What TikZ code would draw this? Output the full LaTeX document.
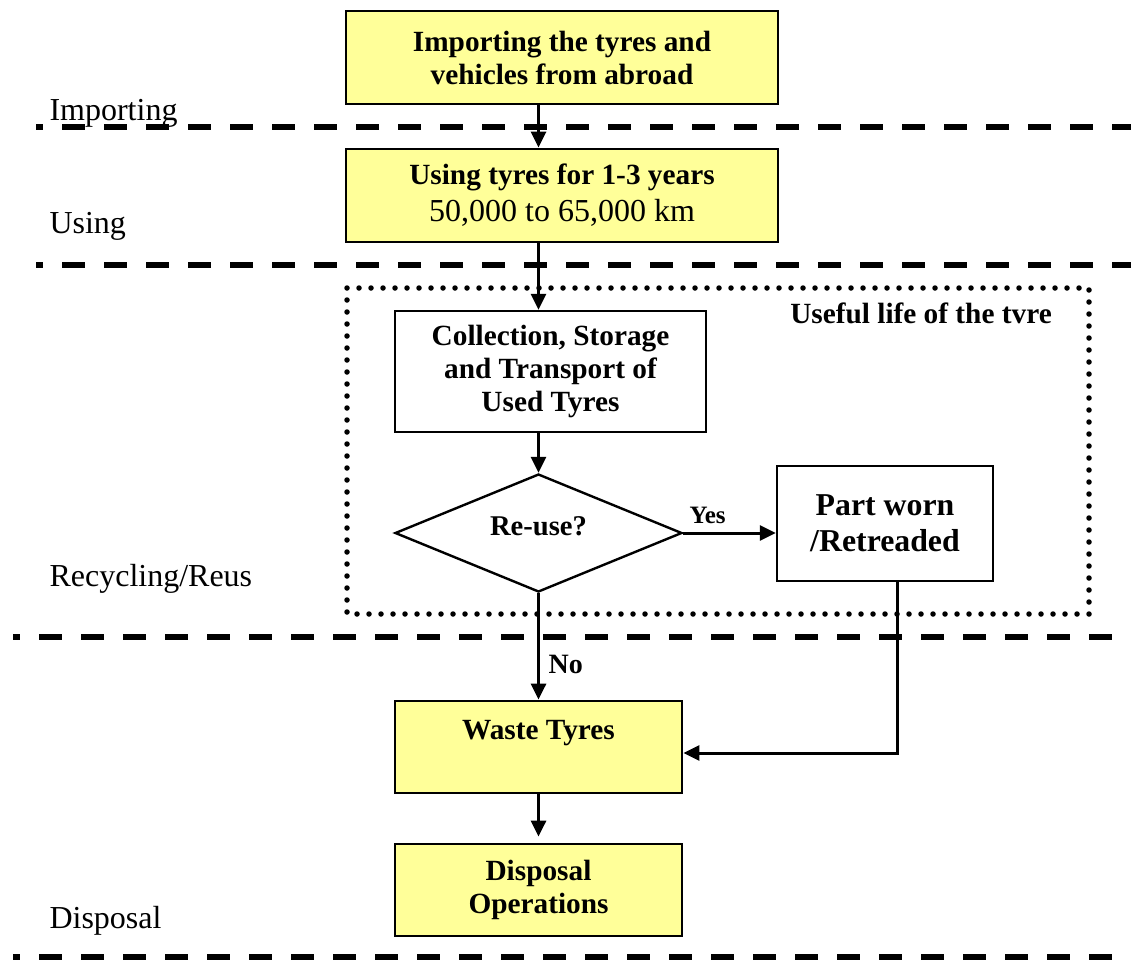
\documentclass[tikz,border=0pt]{standalone}
\usepackage{fontspec}
\setmainfont{Liberation Serif}
\usetikzlibrary{shapes.geometric,arrows.meta}
\definecolor{tyreyellow}{RGB}{255,255,153}

\begin{document}
\begin{tikzpicture}[line join=miter,x=1pt,y=-1pt,
	box/.style={draw,line width=2.4pt,inner sep=0pt,align=center,font=\bfseries\fontsize{29.3}{33}\selectfont},
	stage/.style={box,fill=tyreyellow,line width=2.8pt},
	flow/.style={->,line width=3pt,>={Triangle[length=16pt,width=15pt]}},
	sep/.style={line width=6.5pt,line cap=butt,dash pattern=on 23pt off 19pt,dash phase=16pt},
	lifeframe/.style={line width=5.5pt,line cap=round,dash pattern=on 0pt off 12pt},
	tag/.style={anchor=base west,font=\fontsize{32}{37}\selectfont},
	note/.style={anchor=base,font=\bfseries\fontsize{29.3}{33}\selectfont}]
			\useasboundingbox (0,0) rectangle (1131,959);
			\draw [sep] (36,127) -- (1131,127);
			\draw [sep] (36,265) -- (1131,265);
			\draw [sep] (13,637) -- (1131,637);
			\draw [sep] (13,957) -- (1131,957);
			\draw [lifeframe] (347,288) rectangle (1089,614);
			\node [stage,minimum width=432,minimum height=93] (import) at (562,57.5) {Importing the tyres and\\vehicles from abroad};
			\node [stage,minimum width=432,minimum height=93,font=\fontsize{32}{37}\selectfont] (using) at (562,195.5) {{\bfseries\fontsize{29.3}{33}\selectfont Using tyres for 1-3 years}\\50,000 to 65,000 km};
			\node [box,minimum width=311,minimum height=121] (collect) at (550.5,371.5) {Collection, Storage\\and Transport of\\Used Tyres};
			\node [box,diamond,aspect=2.4,minimum width=287,minimum height=118,text height=20pt,text depth=16pt,font=\bfseries\fontsize{28.6}{33}\selectfont] (reuse) at (538.5,533) {Re-use?};
			\node [box,minimum width=216,minimum height=115,font=\bfseries\fontsize{31.8}{36}\selectfont] (partworn) at (885,523.5) {Part worn\\/Retreaded};
			\node [stage,minimum width=287,minimum height=92,text height=20pt,text depth=36pt] (waste) at (538.5,747) {Waste Tyres};
			\node [stage,minimum width=287,minimum height=92] (disposal) at (538.5,890) {Disposal\\Operations};
			\node [note] (lifetitle) at (921,323) {Useful life of the tvre};
			\node [note,anchor=base west,font=\bfseries\fontsize{25}{30}\selectfont] (yes) at (686,523) {Yes};
			\node [note,anchor=base west,font=\bfseries\fontsize{28}{33}\selectfont] (no) at (545,673) {No};
			\node [tag] (importing) at (46,120) {Importing};
			\node [tag] (usinglabel) at (46,233) {Using};
			\node [tag] (recycling) at (46,586) {Recycling/Reus};
			\node [tag] (disposallabel) at (46,928) {Disposal};
			\coordinate (bend) at (897,753);
			\draw [flow] (import.south -| reuse) -- (using.north -| reuse);
			\draw [flow] (using.south -| reuse) -- (collect.north -| reuse);
			\draw [flow] (collect.south -| reuse) -- (reuse.north);
			\draw [flow] (reuse.south) -- (waste.north);
			\draw [flow] (reuse.east) -- (reuse.east -| partworn.west);
			\draw [flow] (bend |- partworn.south) -- (bend) -- (bend -| waste.east);
			\draw [flow,shorten >=6pt] (waste) -- (disposal);
\end{tikzpicture}
\end{document}
